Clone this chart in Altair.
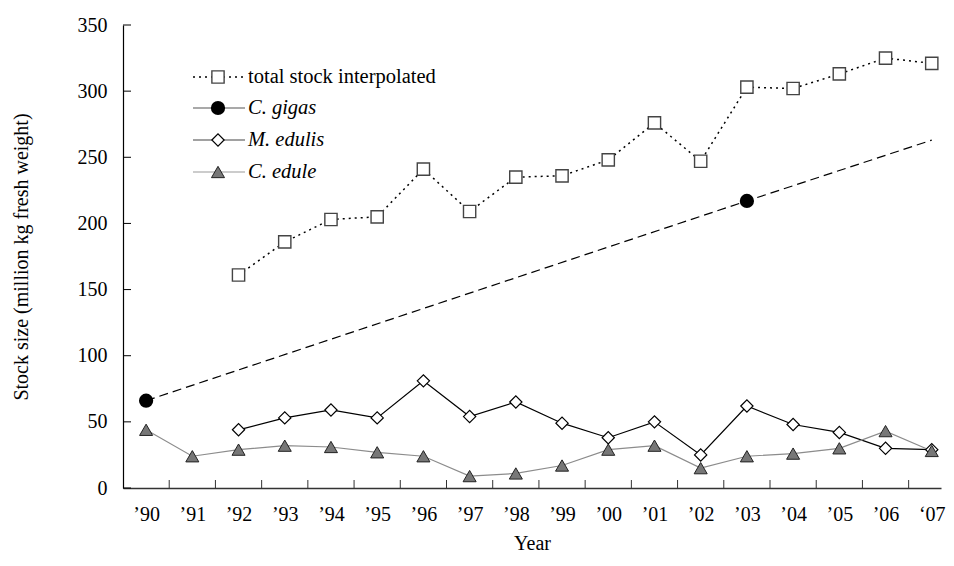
import altair as alt
import pandas as pd

# ---------------- data ----------------
years = list(range(1990, 2008))

total_years = list(range(1992, 2008))
total_stock = [161, 186, 203, 205, 241, 209, 235, 236, 248, 276, 247, 303, 302, 313, 325, 321]

edulis_years = list(range(1992, 2008))
m_edulis = [44, 53, 59, 53, 81, 54, 65, 49, 38, 50, 25, 62, 48, 42, 30, 29]

edule_years = list(range(1990, 2008))
c_edule = [44, 24, 29, 32, 31, 27, 24, 9, 11, 17, 29, 32, 15, 24, 26, 30, 43, 28]

gigas_years = [1990, 2003]
c_gigas = [66, 217]

gigas_trend_years = [1990, 2003, 2007]
gigas_trend = [66, 217, 263]

y_ticks = [0, 50, 100, 150, 200, 250, 300, 350]
x_tick_marks = [y + 0.5 for y in range(1990, 2007)]

legend_labels = ["total stock interpolated", "C. gigas", "M. edulis", "C. edule"]

# ---------------- layout ----------------
W, H = 818, 463
FONT = "Liberation Serif"

xscale = alt.Scale(domain=[1989.5, 2007.2], nice=False, zero=False)
yscale = alt.Scale(domain=[0, 350], nice=False)

def df(xs, ys):
    return pd.DataFrame({"year": xs, "value": ys})

x_axis = alt.Axis(
    values=years,
    labelExpr="datum.value == 2007 ? '\u201807' : '\u2019' + substring(toString(datum.value), 2, 4)",
    ticks=False, grid=False, labelPadding=16, title="Year", titlePadding=9,
    labelFont=FONT, titleFont=FONT, labelFontSize=20, titleFontSize=20,
    titleFontWeight="normal", labelColor="black", titleColor="black",
    domainColor="#333333", domainWidth=1.5, labelFlush=False, labelOverlap=False,
)
y_axis = alt.Axis(
    values=y_ticks, ticks=False, grid=False, labelPadding=16,
    title="Stock size (million kg fresh weight)", titlePadding=46,
    labelFont=FONT, titleFont=FONT, labelFontSize=20, titleFontSize=20,
    titleFontWeight="normal", labelColor="black", titleColor="black",
    domainColor="black", domainWidth=1.2,
)

X = alt.X("year:Q", scale=xscale, axis=x_axis)
Y = alt.Y("value:Q", scale=yscale, axis=y_axis)

# total stock: dotted line + open squares
total_line = alt.Chart(df(total_years, total_stock)).mark_line(
    color="black", strokeWidth=1.5, strokeDash=[2, 4]
).encode(x=X, y=Y)
total_pts = alt.Chart(df(total_years, total_stock)).mark_point(
    shape="square", size=150, filled=True, fill="white", stroke="#444444", strokeWidth=1.4, opacity=1
).encode(x=X, y=Y)

# C. gigas: dashed trend + black dots
gigas_line = alt.Chart(df(gigas_trend_years, gigas_trend)).mark_line(
    color="black", strokeWidth=1.2, strokeDash=[9, 5]
).encode(x=X, y=Y)
gigas_pts = alt.Chart(df(gigas_years, c_gigas)).mark_point(
    shape="circle", size=150, filled=True, fill="black", stroke="black", opacity=1
).encode(x=X, y=Y)

# C. edule: gray line + gray triangles
edule_line = alt.Chart(df(edule_years, c_edule)).mark_line(
    color="#8c8c8c", strokeWidth=1.2
).encode(x=X, y=Y)
edule_pts = alt.Chart(df(edule_years, c_edule)).mark_point(
    shape="triangle-up", size=170, filled=True, fill="#777777", stroke="#222222", strokeWidth=1, opacity=1
).encode(x=X, y=Y)

# M. edulis: black line + open diamonds
edulis_line = alt.Chart(df(edulis_years, m_edulis)).mark_line(
    color="black", strokeWidth=1.2
).encode(x=X, y=Y)
edulis_pts = alt.Chart(df(edulis_years, m_edulis)).mark_point(
    shape="diamond", size=150, filled=True, fill="white", stroke="black", strokeWidth=1.2, opacity=1
).encode(x=X, y=Y)

# inward tick marks
xt = alt.Chart(pd.DataFrame({"year": x_tick_marks})).mark_rule(color="#333333", strokeWidth=1).encode(
    x=X, y=alt.value(H), y2=alt.value(H - 8)
)
yt = alt.Chart(pd.DataFrame({"value": y_ticks})).mark_rule(color="black", strokeWidth=1).encode(
    y=Y, x=alt.value(0), x2=alt.value(8)
)

# manual legend
one = pd.DataFrame({"a": [0]})
legend_layers = []
ly = [52, 83, 115, 147]
line_styles = [
    dict(color="black", strokeWidth=1.5, strokeDash=[2, 4]),
    dict(color="#555555", strokeWidth=1.2),
    dict(color="#444444", strokeWidth=1.2),
    dict(color="#999999", strokeWidth=1.2),
]
markers = [
    dict(shape="square", size=150, filled=True, fill="white", stroke="#444444", strokeWidth=1.4, opacity=1),
    dict(shape="circle", size=150, filled=True, fill="black", stroke="black", opacity=1),
    dict(shape="diamond", size=150, filled=True, fill="white", stroke="black", strokeWidth=1.2, opacity=1),
    dict(shape="triangle-up", size=170, filled=True, fill="#777777", stroke="#222222", strokeWidth=1, opacity=1),
]
styles = ["normal", "italic", "italic", "italic"]
for i, lab in enumerate(legend_labels):
    legend_layers.append(
        alt.Chart(one).mark_rule(**line_styles[i]).encode(
            x=alt.value(70), x2=alt.value(122), y=alt.value(ly[i])
        )
    )
    legend_layers.append(
        alt.Chart(one).mark_point(**markers[i]).encode(x=alt.value(95), y=alt.value(ly[i]))
    )
    legend_layers.append(
        alt.Chart(one).mark_text(
            text=lab, align="left", baseline="middle", font=FONT, fontSize=20.5,
            fontStyle=styles[i], color="black"
        ).encode(x=alt.value(125), y=alt.value(ly[i]))
    )

chart = alt.layer(
    total_line, gigas_line, edulis_line, edule_line, xt, yt,
    total_pts, gigas_pts, edulis_pts, edule_pts, *legend_layers
).properties(
    width=W, height=H,
    autosize=alt.AutoSizeParams(type="none"),
    padding={"left": 115, "top": 17, "right": 5, "bottom": 67},
    background="white",
).configure_view(stroke=None)

chart.save("out.html", embed_options={"renderer": "svg", "actions": False})
